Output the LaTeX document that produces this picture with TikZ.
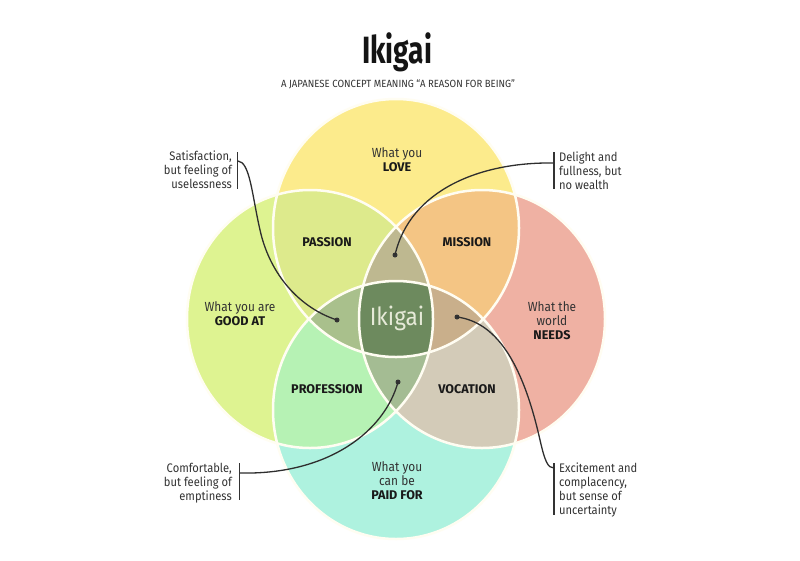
\documentclass[tikz,border=0pt]{standalone}
\usepackage{fontspec}
\setmainfont{Fira Sans}[FakeStretch=0.9]
\newfontfamily\titlefont{Fira Sans}[FakeStretch=0.74]
\newfontfamily\subfont{Fira Sans}[FakeStretch=0.92]
\newfontfamily\lblfont{Fira Sans}
\definecolor{cLove}{HTML}{FCEB8C}
\definecolor{cGood}{HTML}{DEF391}
\definecolor{cNeeds}{HTML}{EFB1A3}
\definecolor{cPaid}{HTML}{AEF2DF}
\definecolor{cPassion}{HTML}{DDEA8C}
\definecolor{cMission}{HTML}{F4C584}
\definecolor{cProfession}{HTML}{B6F2B4}
\definecolor{cVocation}{HTML}{D3CBB8}
\definecolor{cTopT}{HTML}{BEB890}
\definecolor{cLeftT}{HTML}{A9C08C}
\definecolor{cRightT}{HTML}{C9AF8B}
\definecolor{cBotT}{HTML}{A4BC93}
\definecolor{cCenter}{HTML}{6D8A5E}
\definecolor{cCenterTxt}{HTML}{E6EAD8}
\definecolor{ink}{HTML}{333333}
\definecolor{rim}{HTML}{FFFDF2}
\def\cT{(396,228) ellipse [x radius=123pt, y radius=129pt]}
\def\cB{(396,410) ellipse [x radius=123pt, y radius=129pt]}
\def\cL{(310,319) ellipse [x radius=123pt, y radius=129pt]}
\def\cR{(482,319) ellipse [x radius=123pt, y radius=129pt]}
\newcommand{\bl}[1]{{\lblfont\bfseries\fontsize{12.6}{14}\selectfont\color{black!90}#1}}
\tikzset{
  rimline/.style={draw=rim, line width=2.5pt},
  lbl/.style={font=\fontsize{13.2}{14}\selectfont, text=ink, align=center, inner sep=0pt},
  bold/.style={font=\lblfont\fontsize{12.6}{14}\selectfont\bfseries, text=black!90, align=center, inner sep=0pt},
  note/.style={font=\fontsize{12.4}{14}\selectfont, text=ink, inner sep=0pt},
  bar/.style={draw=ink, line width=1.6pt},
  leader/.style={draw=ink!90!black, line width=1.3pt},
  dot/.style={circle, fill=ink, inner sep=0pt, minimum size=5pt}
}
\begin{document}
\begin{tikzpicture}[x=1pt, y=-1pt]
\useasboundingbox (0,0) rectangle (800,560);
\fill[white] (0,0) rectangle (800,560);
% singles
\fill[cLove] \cT;
\fill[cGood] \cL;
\fill[cNeeds] \cR;
\fill[cPaid] \cB;
% pairs
\begin{scope}\clip \cT; \fill[cPassion] \cL; \end{scope}
\begin{scope}\clip \cT; \fill[cMission] \cR; \end{scope}
\begin{scope}\clip \cB; \fill[cProfession] \cL; \end{scope}
\begin{scope}\clip \cB; \fill[cVocation] \cR; \end{scope}
% triples
\begin{scope}\clip \cT; \clip \cL; \fill[cTopT] \cR; \end{scope}
\begin{scope}\clip \cT; \clip \cL; \fill[cLeftT] \cB; \end{scope}
\begin{scope}\clip \cT; \clip \cR; \fill[cRightT] \cB; \end{scope}
\begin{scope}\clip \cB; \clip \cL; \fill[cBotT] \cR; \end{scope}
% all four
\begin{scope}\clip \cT; \clip \cB; \clip \cL; \fill[cCenter] \cR; \end{scope}
% rims
\draw[rimline] \cT;
\draw[rimline] \cB;
\draw[rimline] \cL;
\draw[rimline] \cR;

% title
\node[inner sep=0pt, anchor=base, font=\titlefont\fontsize{38}{40}\selectfont\bfseries, text=black!92] (title) at (397,63) {Ikigai};
\node[inner sep=0pt, anchor=base, font=\subfont\fontsize{10.4}{12}\selectfont, text=ink] (subtitle) at (398,87) {A JAPANESE CONCEPT MEANING “A REASON FOR BEING”};

% circle labels
\node[lbl] (love) at (397,160) {What you\\\bl{LOVE}};
\node[lbl] (good) at (240,314) {What you are\\\bl{GOOD AT}};
\node[lbl] (needs) at (552,321) {What the\\world\\\bl{NEEDS}};
\node[lbl] (paid) at (397,481) {What you\\can be\\\bl{PAID FOR}};
\node[bold] (passion) at (327,242) {PASSION};
\node[bold] (mission) at (467,242) {MISSION};
\node[bold] (profession) at (327,389) {PROFESSION};
\node[bold] (vocation) at (467,389) {VOCATION};
\node[inner sep=0pt, font=\fontsize{25}{27}\selectfont, text=cCenterTxt] (ikigai) at (397,318) {Ikigai};

% annotations
\node[note, anchor=east, align=right] (sat) at (232,170) {Satisfaction,\\but feeling of\\uselessness};
\node[note, anchor=west, align=left] (del) at (559,171) {Delight and\\fullness, but\\no wealth};
\node[note, anchor=east, align=right] (com) at (232,483) {Comfortable,\\but feeling of\\emptiness};
\node[note, anchor=west, align=left] (exc) at (559,490) {Excitement and\\complacency,\\but sense of\\uncertainty};

% bars
\coordinate (satA) at (237.5,152); \coordinate (satB) at (237.5,189);
\coordinate (delA) at (554,152); \coordinate (delB) at (554,189);
\coordinate (comA) at (239.5,463); \coordinate (comB) at (239.5,500);
\coordinate (excA) at (554,463); \coordinate (excB) at (554,515);
\draw[bar] (satA) -- (satB);
\draw[bar] (delA) -- (delB);
\draw[bar] (comA) -- (comB);
\draw[bar] (excA) -- (excB);

% dots
\node[dot] (d1) at (337,320) {};
\node[dot] (d2) at (395,255) {};
\node[dot] (d3) at (398,382) {};
\node[dot] (d4) at (457,317) {};

% leaders
\coordinate (s1) at (238,161);
\coordinate (s2) at (553,163);
\coordinate (s3) at (240,473);
\coordinate (s4) at (554,468);
\draw[leader] (s1) .. controls (250,162) and (252,195) .. (260,230) .. controls (270,275) and (300,308) .. (d1.center);
\draw[leader] (s2) .. controls (480,162) and (410,190) .. (d2.center);
\draw[leader] (s3) .. controls (330,475) and (385,430) .. (d3.center);
\draw[leader] (d4.center) .. controls (495,322) and (522,360) .. (540,440) .. controls (545,462) and (548,468) .. (s4);
\end{tikzpicture}
\end{document}
